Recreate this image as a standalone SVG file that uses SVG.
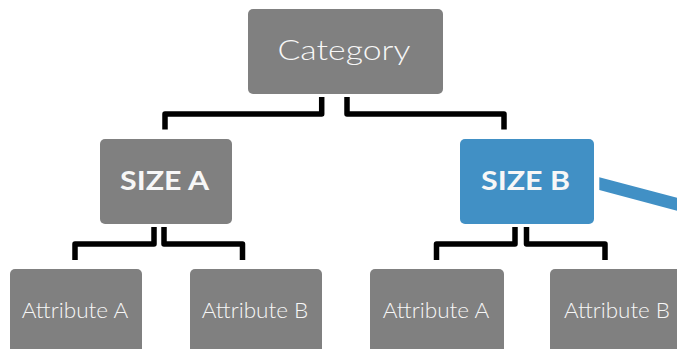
<svg xmlns="http://www.w3.org/2000/svg" width="677" height="349" viewBox="0 0 677 349">
<style>
.box{fill:#808080}
.blue{fill:#4190c5}
.t{fill:#f7f7f7;font-family:Lato,"Open Sans","Liberation Sans",sans-serif;text-anchor:middle}
.cat{font-size:28px;font-weight:300}
.size{font-size:27px;font-weight:700}
.attr{font-size:21px;font-weight:300}
.conn{fill:none;stroke:#000;stroke-width:5.5;stroke-linejoin:round}
</style>
<rect width="677" height="349" fill="#fff"/>
<g id="connectors">
<path class="conn" d="M321.7,97 V114 H165 V129.5"/>
<path class="conn" d="M347,97 V114 H504 V129.5"/>
<path class="conn" d="M154,227 V244 H75 V260"/>
<path class="conn" d="M164,227 V244 H242.5 V260"/>
<path class="conn" d="M515,227 V244 H436.5 V260"/>
<path class="conn" d="M526.5,227 V244 H605 V260"/>
<polygon class="blue" points="599.3,177.3 677,197.7 677,210.7 599.3,190"/>
</g>
<g id="category">
<rect class="box" x="248" y="9" width="195" height="85" rx="5"/>
<text class="t cat" x="344" y="60" textLength="133" lengthAdjust="spacingAndGlyphs">Category</text>
</g>
<g id="sizeA">
<rect class="box" x="100" y="139" width="132" height="85" rx="5"/>
<text class="t size" x="164.5" y="189.5" textLength="89" lengthAdjust="spacingAndGlyphs">SIZE A</text>
</g>
<g id="sizeB">
<rect class="blue" x="460" y="139" width="134" height="85" rx="5"/>
<text class="t size" x="525.5" y="189.5" textLength="89" lengthAdjust="spacingAndGlyphs">SIZE B</text>
</g>
<g id="attrA1">
<rect class="box" x="10" y="269" width="132" height="90" rx="5"/>
<text class="t attr" x="75" y="317.5" textLength="106.6" lengthAdjust="spacingAndGlyphs">Attribute A</text>
</g>
<g id="attrB1">
<rect class="box" x="190" y="269" width="132" height="90" rx="5"/>
<text class="t attr" x="255" y="317.5" textLength="106.6" lengthAdjust="spacingAndGlyphs">Attribute B</text>
</g>
<g id="attrA2">
<rect class="box" x="370" y="269" width="134" height="90" rx="5"/>
<text class="t attr" x="436" y="317.5" textLength="106.6" lengthAdjust="spacingAndGlyphs">Attribute A</text>
</g>
<g id="attrB2">
<rect class="box" x="550" y="269" width="134" height="90" rx="5"/>
<text class="t attr" x="617" y="317.5" textLength="106" lengthAdjust="spacingAndGlyphs">Attribute B</text>
</g>
</svg>
